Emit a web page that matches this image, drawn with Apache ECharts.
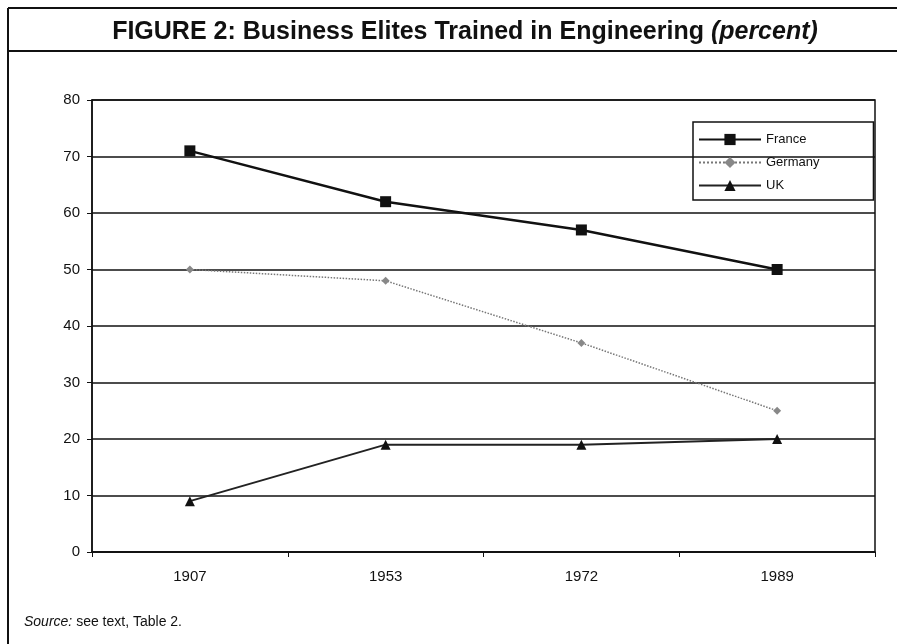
<!DOCTYPE html>
<html>
<head>
<meta charset="utf-8">
<script src="https://cdn.jsdelivr.net/npm/echarts@6/dist/echarts.min.js"></script>
<style>
  html, body { margin: 0; padding: 0; background: #fff; }
  #chart { width: 897px; height: 644px; }
</style>
</head>
<body>
<div id="chart"></div>
<script>
// data
const years = ['1907', '1953', '1972', '1989'];
const france = [71, 62, 57, 50];
const germany = [50, 48, 37, 25];
const uk = [9, 19, 19, 20];

const chart = echarts.init(document.getElementById('chart'));

chart.setOption({
    backgroundColor: '#fff',
    animation: false,
    title: {
        text: '{b|FIGURE 2: Business Elites Trained in Engineering }{i|(percent)}',
        left: 460,
        textAlign: 'center',
        top: 15,
        textStyle: {
            rich: {
                b: { fontFamily: 'Liberation Sans Narrow, Arial Narrow, sans-serif', fontWeight: 'bold', fontSize: 25, color: '#111' },
                i: { fontFamily: 'Liberation Sans Narrow, Arial Narrow, sans-serif', fontWeight: 'bold', fontStyle: 'italic', fontSize: 25, color: '#111' }
            }
        }
    },
    legend: {
        orient: 'vertical',
        left: 693,
        top: 122,
        padding: [11, 54, 8, 5],
        itemGap: 10,
        itemWidth: 62,
        itemHeight: 14,
        borderColor: '#111',
        borderWidth: 1.5,
        textStyle: { fontFamily: 'Liberation Sans Narrow, Arial Narrow, sans-serif', fontSize: 13, color: '#111' },
        data: ['France', 'Germany', 'UK']
    },
    grid: {
        left: 92,
        right: 22,
        top: 100,
        bottom: 92,
        show: true,
        borderColor: '#111',
        borderWidth: 1.5
    },
    xAxis: {
        type: 'category',
        data: years,
        boundaryGap: true,
        axisLine: { lineStyle: { color: '#111', width: 1.5 } },
        axisTick: { show: true, length: 5, lineStyle: { color: '#111' } },
        axisLabel: { color: '#111', fontFamily: 'Liberation Sans, Arial, sans-serif', fontSize: 15, margin: 17 }
    },
    yAxis: {
        type: 'value',
        min: 0,
        max: 80,
        interval: 10,
        axisLine: { show: true, lineStyle: { color: '#111', width: 1.5 } },
        axisTick: { show: true, length: 5, lineStyle: { color: '#111' } },
        axisLabel: { color: '#111', fontFamily: 'Liberation Sans, Arial, sans-serif', fontSize: 15, margin: 12 },
        splitLine: { lineStyle: { color: '#111', width: 1.5 } }
    },
    series: [
        {
            name: 'France',
            type: 'line',
            data: france,
            symbol: 'rect',
            symbolSize: 11,
            itemStyle: { color: '#111' },
            lineStyle: { color: '#111', width: 2.5 }
        },
        {
            name: 'Germany',
            type: 'line',
            data: germany,
            symbol: 'diamond',
            symbolSize: 8,
            itemStyle: { color: '#888' },
            lineStyle: { color: '#777', width: 1.5, type: 'dotted' }
        },
        {
            name: 'UK',
            type: 'line',
            data: uk,
            symbol: 'triangle',
            symbolSize: 10,
            itemStyle: { color: '#111' },
            lineStyle: { color: '#222', width: 2 }
        }
    ],
    graphic: [
        // figure frame
        { type: 'line', shape: { x1: 8, y1: 8, x2: 897, y2: 8 }, style: { stroke: '#111', lineWidth: 2 } },
        { type: 'line', shape: { x1: 8, y1: 51, x2: 897, y2: 51 }, style: { stroke: '#111', lineWidth: 2 } },
        { type: 'line', shape: { x1: 8, y1: 8, x2: 8, y2: 644 }, style: { stroke: '#111', lineWidth: 2 } },
        {
            type: 'text',
            left: 24,
            top: 615,
            style: {
                text: '{i|Source:} see text, Table 2.',
                rich: {
                    i: { fontStyle: 'italic', fontFamily: 'Liberation Sans, Arial, sans-serif', fontSize: 14, fill: '#111' }
                },
                fontFamily: 'Liberation Sans, Arial, sans-serif',
                fontSize: 14,
                fill: '#111'
            }
        }
    ]
});
</script>
</body>
</html>
